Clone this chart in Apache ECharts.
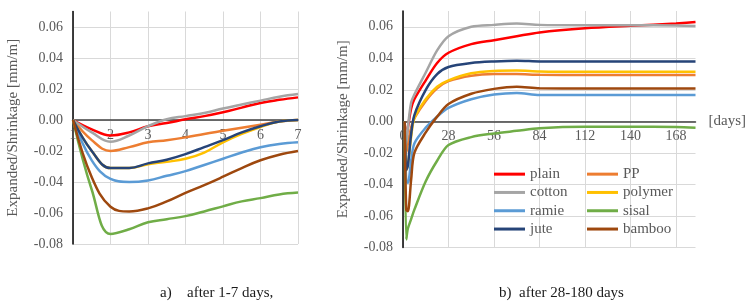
<!DOCTYPE html>
<html>
<head>
<meta charset="utf-8">
<script src="https://cdn.jsdelivr.net/npm/echarts@6/dist/echarts.min.js"></script>
<style>
  html, body { margin: 0; padding: 0; background: #fff; }
  #chart { width: 749px; height: 302px; }
</style>
</head>
<body>
<div id="chart"></div>
<script>
// fibre types, in legend order
var names = ['plain', 'PP', 'cotton', 'polymer', 'ramie', 'sisal', 'jute', 'bamboo'];
var colors = ['#ff0000', '#ed7d31', '#a5a5a5', '#ffc000', '#5b9bd5', '#70ad47', '#264478', '#9e480e'];

// a) after 1-7 days
var leftDays = [1, 1.5, 2, 2.5, 3, 3.5, 4, 4.5, 5, 5.5, 6, 6.5, 7];
var leftPlain   = [0, -0.006, -0.010, -0.008, -0.004, -0.002, 0.0005, 0.0025, 0.005, 0.008, 0.011, 0.013, 0.0146];
var leftPP      = [0, -0.013, -0.020, -0.0175, -0.0144, -0.013, -0.0112, -0.009, -0.007, -0.005, -0.003, -0.001, 0];
var leftCotton  = [0, -0.008, -0.014, -0.010, -0.004, 0.0005, 0.0025, 0.0045, 0.0074, 0.010, 0.0125, 0.015, 0.0167];
var leftPolymer = [0, -0.020, -0.031, -0.031, -0.0285, -0.027, -0.025, -0.021, -0.0144, -0.009, -0.0045, -0.001, 0];
var leftRamie   = [0, -0.026, -0.038, -0.040, -0.039, -0.036, -0.033, -0.029, -0.025, -0.021, -0.0176, -0.0155, -0.0144];
var leftSisal   = [0, -0.045, -0.0735, -0.0705, -0.066, -0.064, -0.062, -0.059, -0.0557, -0.0525, -0.0504, -0.048, -0.0468];
var leftJute    = [0, -0.020, -0.031, -0.031, -0.028, -0.0256, -0.022, -0.0175, -0.013, -0.008, -0.004, -0.001, 0];
var leftBamboo  = [0, -0.037, -0.056, -0.059, -0.057, -0.0525, -0.047, -0.042, -0.0366, -0.031, -0.026, -0.0224, -0.020];

// b) after 28-180 days
var rightDays = [1, 2, 3, 5, 7, 14, 21, 28, 42, 56, 70, 84, 112, 140, 168, 180];
var rightPlain   = [0, -0.010, -0.004, 0.008, 0.014, 0.026, 0.037, 0.0435, 0.049, 0.0515, 0.054, 0.0564, 0.059, 0.0606, 0.062, 0.063];
var rightPP      = [0, -0.020, -0.014, -0.004, 0.002, 0.013, 0.021, 0.0255, 0.029, 0.030, 0.030, 0.0295, 0.0294, 0.0294, 0.0294, 0.0294];
var rightCotton  = [0, -0.014, -0.004, 0.012, 0.017, 0.031, 0.045, 0.054, 0.060, 0.0612, 0.062, 0.0612, 0.061, 0.061, 0.0608, 0.0605];
var rightPolymer = [0, -0.031, -0.028, -0.010, 0.002, 0.014, 0.022, 0.026, 0.0305, 0.032, 0.0323, 0.0317, 0.0315, 0.0315, 0.0315, 0.0315];
var rightRamie   = [0, -0.038, -0.039, -0.025, -0.014, -0.004, 0.003, 0.0085, 0.014, 0.017, 0.018, 0.0168, 0.0168, 0.0168, 0.0168, 0.0168];
var rightSisal   = [0, -0.075, -0.068, -0.062, -0.056, -0.038, -0.025, -0.015, -0.010, -0.0077, -0.006, -0.0043, -0.0034, -0.0034, -0.0036, -0.004];
var rightJute    = [0, -0.031, -0.028, -0.008, 0.004, 0.020, 0.030, 0.0345, 0.037, 0.038, 0.0385, 0.038, 0.0379, 0.0379, 0.0379, 0.0379];
var rightBamboo  = [0, -0.056, -0.057, -0.037, -0.020, -0.007, 0.003, 0.011, 0.0175, 0.0206, 0.022, 0.021, 0.0209, 0.0209, 0.0209, 0.0209];

var leftValues = [leftPlain, leftPP, leftCotton, leftPolymer, leftRamie, leftSisal, leftJute, leftBamboo];
var rightValues = [rightPlain, rightPP, rightCotton, rightPolymer, rightRamie, rightSisal, rightJute, rightBamboo];

var font = 'Liberation Serif';
var grey = '#595959';
var yMin = -0.08, yMax = 0.07;

function pairs(xs, ys) {
  return xs.map(function (x, i) { return [x, ys[i]]; });
}

// pixels from the bottom of a grid up to the zero line
function zeroOffset(top, bottom) {
  var h = 302 - top - bottom;
  return -(0 - yMin) / (yMax - yMin) * h;
}

function yAxisFor(gridIndex) {
  return {
    type: 'value', gridIndex: gridIndex,
    min: yMin, max: yMax, interval: 0.02,
    name: 'Expanded/Shrinkage [mm/m]',
    nameLocation: 'middle', nameGap: 52,
    nameTextStyle: { fontFamily: font, fontSize: 15, color: grey },
    axisLine: { show: true, lineStyle: { color: '#000', width: 1.5 } },
    axisTick: { show: false },
    axisLabel: {
      fontFamily: font, fontSize: 14, color: grey, margin: 10, showMaxLabel: false,
      formatter: function (v) { return v.toFixed(2); }
    },
    splitLine: { show: true, showMaxLine: false, lineStyle: { color: '#d9d9d9', width: 1 } }
  };
}

var series = [];
names.forEach(function (n, i) {
  series.push({
    name: n, type: 'line', xAxisIndex: 0, yAxisIndex: 0,
    data: pairs(leftDays, leftValues[i]),
    smooth: 0.4, showSymbol: false, symbol: 'none',
    lineStyle: { color: colors[i], width: 2.5 }, itemStyle: { color: colors[i] },
    z: 3
  });
  series.push({
    name: n, type: 'line', xAxisIndex: 1, yAxisIndex: 1,
    data: pairs(rightDays, rightValues[i]),
    smooth: 0.3, showSymbol: false, symbol: 'none',
    lineStyle: { color: colors[i], width: 2.5 }, itemStyle: { color: colors[i] },
    z: 3
  });
});

var legendBase = {
  orient: 'vertical', top: 165, itemGap: 0, padding: 0,
  icon: 'rect', itemWidth: 31, itemHeight: 3,
  textStyle: { fontFamily: font, fontSize: 15, color: grey, lineHeight: 18.3 },
  selectedMode: false
};

var captionStyle = { fontFamily: font, fontSize: 15, fontWeight: 'normal', color: '#1a1a1a' };

var option = {
  backgroundColor: '#fff',
  animation: false,
  title: [
    { text: 'a)', left: 160, top: 286, padding: 0, textStyle: captionStyle },
    { text: 'after 1-7 days,', left: 187, top: 286, padding: 0, textStyle: captionStyle },
    { text: 'b)  after 28-180 days', left: 499, top: 286, padding: 0, textStyle: captionStyle }
  ],
  legend: [
    Object.assign({}, legendBase, { left: 494, data: ['plain', 'cotton', 'ramie', 'jute'] }),
    Object.assign({}, legendBase, { left: 587, data: ['PP', 'polymer', 'sisal', 'bamboo'] })
  ],
  grid: [
    { left: 73, right: 451, top: 11.5, bottom: 58 },
    { left: 403, right: 50, top: 11, bottom: 54.5 }
  ],
  xAxis: [
    {
      type: 'value', gridIndex: 0, min: 1, max: 7, interval: 1,
      position: 'bottom', offset: zeroOffset(11.5, 58),
      axisLine: { onZero: false, lineStyle: { color: '#404040', width: 1.5 } },
      axisTick: { show: false },
      axisLabel: { fontFamily: font, fontSize: 14, color: grey, margin: 8 },
      splitLine: { show: true, lineStyle: { color: '#d9d9d9', width: 1 } }
    },
    {
      type: 'value', gridIndex: 1, min: 0, max: 180, interval: 28,
      position: 'bottom', offset: zeroOffset(11, 54.5),
      name: '[days]', nameLocation: 'end', nameGap: 13,
      nameTextStyle: { fontFamily: font, fontSize: 15, color: grey, padding: [28, 0, 0, 0] },
      axisLine: { onZero: false, lineStyle: { color: '#404040', width: 1.5 } },
      axisTick: { show: false },
      axisLabel: { fontFamily: font, fontSize: 14, color: grey, margin: 8, showMaxLabel: false },
      splitLine: { show: true, showMaxLine: false, lineStyle: { color: '#d9d9d9', width: 1 } }
    }
  ],
  yAxis: [yAxisFor(0), yAxisFor(1)],
  series: series
};

var myChart = echarts.init(document.getElementById('chart'));
myChart.setOption(option);
</script>
</body>
</html>
